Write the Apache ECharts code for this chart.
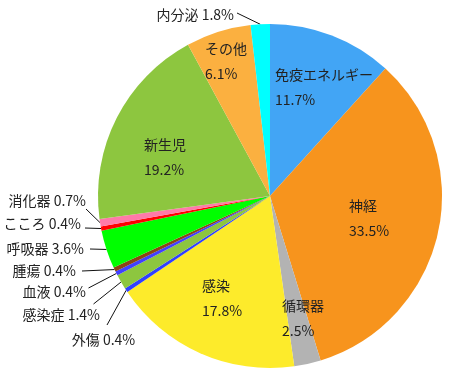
<!DOCTYPE html>
<html><head><meta charset="utf-8">
<script src="https://cdn.jsdelivr.net/npm/echarts@6/dist/echarts.min.js"></script>
<style>html,body{margin:0;padding:0;background:#fff}#c{width:450px;height:376px}</style>
</head><body><div id="c"></div>
<script>
const categories = ['免疫エネルギー','神経','循環器','感染','外傷','感染症','血液','腫瘍','呼吸器','こころ','消化器','新生児','その他','内分泌'];
const values = [11.7, 33.5, 2.5, 17.8, 0.4, 1.4, 0.4, 0.4, 3.6, 0.4, 0.7, 19.2, 6.1, 1.8];
const colors = ['#42a5f5','#f7941d','#b3b3b3','#fdeb2b','#3040ff','#8dc63f','#4040ff','#8b4513','#00ff00','#ff0000','#ff7aa8','#8dc63f','#fbb040','#00ffff'];
const insideIdx = [0, 1, 2, 3, 11, 12];
// label anchor layout: [x, y, align]
const labelPos = {
  0: [275, 87.5, 'left'], 1: [349, 218, 'left'], 2: [282, 318, 'left'], 3: [202, 298, 'left'],
  11: [144, 157.5, 'left'], 12: [205, 61.5, 'left'],
  4: [103.5, 340, 'center'], 5: [100, 315, 'right'], 6: [86, 292, 'right'], 7: [76, 271, 'right'],
  8: [84, 248.5, 'right'], 9: [81, 224, 'right'], 10: [86, 200.5, 'right'], 13: [234, 15, 'right']
};
const lineEnd = {
  4: [107, 325], 5: [93.5, 304], 6: [88.5, 288], 7: [82, 271], 8: [90, 249],
  9: [85, 228], 10: [86, 209], 13: [237, 13]
};
const data = categories.map((name, i) => {
  const inside = insideIdx.indexOf(i) >= 0;
  return {
    name: name, value: values[i],
    itemStyle: { color: colors[i] },
    label: inside ? { position: 'inside', formatter: '{b}\n{c}%', lineHeight: 25 }
                  : { position: 'outside', formatter: '{b} {c}%' },
    labelLine: { show: !inside }
  };
});
const chart = echarts.init(document.getElementById('c'), null, { renderer: 'canvas' });
chart.setOption({
  animation: false,
  series: [{
    type: 'pie',
    center: [270, 196],
    radius: 172,
    startAngle: 90,
    clockwise: true,
    avoidLabelOverlap: false,
    data: data,
    itemStyle: { borderWidth: 0 },
    label: { color: '#222', fontSize: 14, fontFamily: '"Noto Sans CJK JP", "Noto Sans", sans-serif' },
    labelLine: { lineStyle: { color: '#111', width: 1 }, length: 10, length2: 0, smooth: false },
    labelLayout: function (p) {
      const L = labelPos[p.dataIndex];
      const out = { x: L[0], y: L[1], align: L[2], verticalAlign: 'middle' };
      const e = lineEnd[p.dataIndex];
      if (e && p.labelLinePoints) {
        const s = p.labelLinePoints[0];
        out.labelLinePoints = [s, e, e];
      }
      return out;
    }
  }]
});
</script></body></html>
